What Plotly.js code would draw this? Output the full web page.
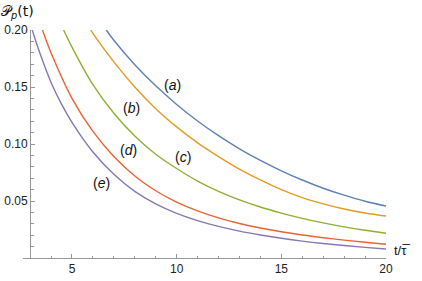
<!DOCTYPE html>
<html>
<head>
<meta charset="utf-8">
<script src="https://cdn.plot.ly/plotly-3.0.1.min.js"></script>
<style>html,body{margin:0;padding:0;background:#fff;}#chart{width:422px;height:281px;}</style>
</head>
<body>
<div id="chart"></div>
<script>
// Curve (a)
var tA = [6.64, 7, 8, 9, 10, 11, 12, 13, 14, 15, 16, 17, 18, 19, 20];
var pA = [0.200, 0.191, 0.1695, 0.151, 0.1347, 0.1202, 0.1073, 0.0958, 0.0856, 0.0765, 0.0684, 0.0612, 0.0551, 0.0498, 0.0456];
// Curve (b)
var tB = [5.9, 6, 7, 8, 9, 10, 11, 12, 13, 14, 15, 16, 17, 18, 19, 20];
var pB = [0.200, 0.197, 0.172, 0.150, 0.131, 0.115, 0.101, 0.089, 0.078, 0.0685, 0.060, 0.053, 0.0475, 0.043, 0.0395, 0.0368];
// Curve (c)
var tC = [4.6, 5, 6, 7, 8, 9, 10, 11, 12, 13, 14, 15, 16, 17, 18, 19, 20];
var pC = [0.200, 0.185, 0.152, 0.127, 0.107, 0.091, 0.0785, 0.0675, 0.0585, 0.051, 0.0447, 0.0394, 0.0348, 0.0308, 0.0273, 0.0243, 0.0217];
// Curve (d)
var tD = [3.59, 4, 5, 6, 7, 8, 9, 10, 11, 12, 13, 14, 15, 16, 17, 18, 19, 20];
var pD = [0.200, 0.180, 0.140, 0.111, 0.089, 0.072, 0.059, 0.049, 0.0413, 0.0352, 0.0303, 0.0263, 0.023, 0.0202, 0.0178, 0.0157, 0.0138, 0.012];
// Curve (e)
var tE = [3.1, 3.5, 4, 4.5, 5, 6, 7, 8, 9, 10, 11, 12, 13, 14, 15, 16, 17, 18, 19, 20];
var pE = [0.200, 0.178, 0.154, 0.135, 0.119, 0.093, 0.0735, 0.0585, 0.0475, 0.0392, 0.0328, 0.0277, 0.0236, 0.0202, 0.0173, 0.0148, 0.0127, 0.0109, 0.0093, 0.0079];

var curveNames = ['(a)', '(b)', '(c)', '(d)', '(e)'];
var colors = ['#5E81B5', '#E19C24', '#8FB032', '#EB6235', '#8778B3'];
var labelT = [9.78, 7.82, 10.29, 7.7, 6.4];
var labelP = [0.152, 0.132, 0.089, 0.095, 0.0655];
var labelLetters = ['a', 'b', 'c', 'd', 'e'];

var xs = [tA, tB, tC, tD, tE];
var ys = [pA, pB, pC, pD, pE];

var traces = xs.map(function (x, i) {
  return {
    x: x, y: ys[i], type: 'scatter', mode: 'lines', name: curveNames[i],
    line: {color: colors[i], width: 1.4, shape: 'spline', smoothing: 1},
    hoverinfo: 'skip'
  };
});

var xMin = 2.66, xMax = 20;
var annotations = labelLetters.map(function (l, i) {
  return {
    x: labelT[i], y: labelP[i], xref: 'x', yref: 'y', showarrow: false,
    text: '(<i>' + l + '</i>)',
    font: {family: 'Liberation Sans, Arial, sans-serif', size: 14, color: '#111'}
  };
});
annotations.push({
  xref: 'paper', yref: 'paper', x: -0.065, y: 1.0, yshift: 18,
  xanchor: 'left', yanchor: 'middle', showarrow: false,
  text: '𝒫<sub><i>p</i></sub>(t)',
  font: {family: 'DejaVu Sans, Liberation Sans, sans-serif', size: 14, color: '#111'}
});
annotations.push({
  xref: 'paper', yref: 'paper', x: 1.0, y: 0, xshift: 6, yshift: 8,
  xanchor: 'left', yanchor: 'middle', showarrow: false,
  text: 't/τ\u0305',
  font: {family: 'Liberation Sans, Arial, sans-serif', size: 13, color: '#111'}
});

var layout = {
  width: 422, height: 281,
  margin: {l: 23, r: 36, t: 30, b: 23, pad: 0},
  paper_bgcolor: '#fff', plot_bgcolor: '#fff',
  showlegend: false,
  xaxis: {
    range: [xMin, xMax], showgrid: false, zeroline: false,
    showline: true, linecolor: '#999', linewidth: 1,
    tickvals: [5, 10, 15, 20], ticktext: ['5', '10', '15', '20'],
    ticks: 'inside', ticklen: 4, tickcolor: '#999', tickwidth: 1,
    minor: {tickvals: [4, 6, 7, 8, 9, 11, 12, 13, 14, 16, 17, 18, 19], ticks: 'inside', ticklen: 2.5, tickcolor: '#999', tickwidth: 1},
    tickfont: {family: 'Liberation Sans, Arial, sans-serif', size: 12, color: '#222'},
    fixedrange: true
  },
  yaxis: {
    range: [0, 0.2], showgrid: false, zeroline: false,
    anchor: 'free', position: (3 - xMin) / (xMax - xMin),
    showline: true, linecolor: '#999', linewidth: 1,
    tickvals: [0.05, 0.10, 0.15, 0.20], ticktext: ['0.05', '0.10', '0.15', '0.20'],
    ticks: 'inside', ticklen: 4, tickcolor: '#999', tickwidth: 1,
    minor: {tickvals: [0.01, 0.02, 0.03, 0.04, 0.06, 0.07, 0.08, 0.09, 0.11, 0.12, 0.13, 0.14, 0.16, 0.17, 0.18, 0.19], ticks: 'inside', ticklen: 2.5, tickcolor: '#999', tickwidth: 1},
    tickfont: {family: 'Liberation Sans, Arial, sans-serif', size: 12, color: '#222'},
    fixedrange: true
  },
  annotations: annotations
};

Plotly.newPlot('chart', traces, layout, {staticPlot: true, displayModeBar: false});
</script>
</body>
</html>
